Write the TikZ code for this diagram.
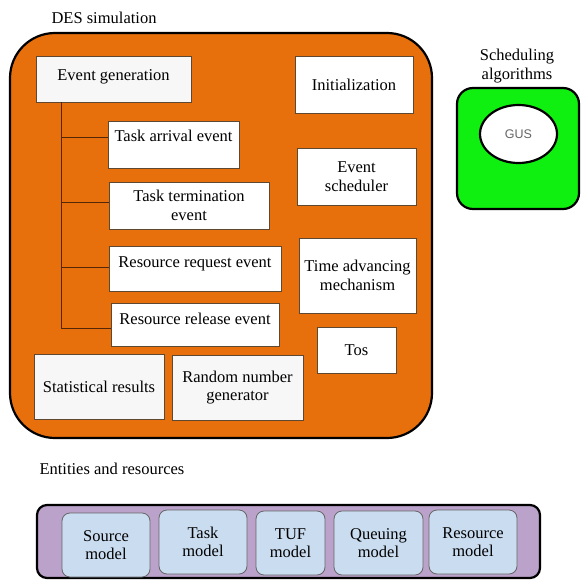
\documentclass[tikz,border=0pt]{standalone}
\usepackage{fontspec}
\setmainfont{LiberationSerif}[Extension=.ttf, UprightFont=*-Regular, BoldFont=*-Bold, ItalicFont=*-Italic]
\newfontfamily\gusfont{Liberation Sans}
\usetikzlibrary{shapes.geometric}
\definecolor{desorange}{RGB}{232,112,12}
\definecolor{schedgreen}{RGB}{16,240,16}
\definecolor{entpurple}{RGB}{186,162,202}
\definecolor{modelblue}{RGB}{202,220,240}
\definecolor{boxedge}{RGB}{95,72,50}
\definecolor{treeline}{RGB}{85,38,8}
\begin{document}
\begin{tikzpicture}[x=1pt,y=-1pt,
  every node/.style={font=\fontsize{16.5}{18.5}\selectfont},
  wbox/.style={draw=boxedge, line width=0.8pt, fill=white, inner sep=0pt, align=center},
  mbox/.style={draw=black!60, line width=0.8pt, fill=modelblue, rounded corners=8pt,
               inner sep=0pt, align=center},
  lift/.style={text height=12pt, text depth=4pt},
  branch/.style={draw=treeline, line width=1pt},
  outline/.style={draw=black, line width=2.2pt}]
\useasboundingbox (0,0) rectangle (580,580);

% DES simulation container
\node[anchor=west] (destitle) at (48,18) {DES simulation};
\node[outline, fill=desorange, rounded corners=45pt, minimum width=422pt,
      minimum height=405pt, inner sep=0pt] (des) at (221,235.5) {};

% event generation tree
\node[wbox, fill=black!3, lift, minimum width=155pt, minimum height=46pt] (evgen) at (113.5,79) {\raisebox{2.5pt}{Event generation}};
\node[wbox, lift, minimum width=131pt, minimum height=47pt] (arrival) at (173.5,144.5) {\raisebox{6.5pt}{Task arrival event}};
\node[wbox, minimum width=160pt, minimum height=47pt] (termination) at (189,205.5) {Task termination\\event};
\node[wbox, lift, minimum width=172pt, minimum height=45pt] (request) at (195,268.5) {\raisebox{5.5pt}{Resource request event}};
\node[wbox, lift, minimum width=168pt, minimum height=43pt] (release) at (195,324.5) {\raisebox{4.5pt}{Resource release event}};

\coordinate (trunk) at (61,102);
\draw[branch] (trunk) |- ([yshift=-3.5pt]release.west);
\draw[branch] ([yshift=6.5pt]arrival.west) -| (trunk);
\draw[branch] ([yshift=3.5pt]termination.west) -| (trunk);
\draw[branch] ([yshift=1.5pt]request.west) -| (trunk);

% remaining simulation components
\node[wbox, fill=black!3, minimum width=130pt, minimum height=65pt] (stats) at (99,386.5) {Statistical results};
\node[wbox, fill=black!3, minimum width=131pt, minimum height=65pt] (random) at (237.5,387.5) {Random number\\generator};
\node[wbox, minimum width=118pt, minimum height=57pt] (init) at (354,84.5) {Initialization};
\node[wbox, minimum width=119pt, minimum height=57pt] (sched) at (356.5,176.5) {Event\\scheduler};
\node[wbox, minimum width=117pt, minimum height=75pt] (timeadv) at (357.5,275.5) {Time advancing\\mechanism};
\node[wbox, minimum width=79pt, minimum height=46pt] (tos) at (356.5,350) {Tos};

% scheduling algorithms
\node[align=center] (schedtitle) at (517,66) {Scheduling\\algorithms};
\node[outline, fill=schedgreen, rounded corners=16pt, minimum width=122pt,
      minimum height=121pt, inner sep=0pt] (algos) at (518,148.5) {};
\node[ellipse, draw=black, line width=2.2pt, fill=white, minimum width=77pt,
      minimum height=58pt, inner sep=0pt, text=black!60,
      font=\gusfont\fontsize{12.5}{14}\selectfont] (gus) at (518.5,134) {GUS};

% entities and resources
\node[anchor=west] (enttitle) at (36,469) {Entities and resources};
\node[outline, fill=entpurple, rounded corners=10pt, minimum width=503pt,
      minimum height=73pt, inner sep=0pt] (ent) at (288.5,541.5) {};
\node[mbox, minimum width=88pt, minimum height=64pt] (source) at (106,545) {Source\\model};
\node[mbox, minimum width=88pt, minimum height=64pt] (task) at (203,542) {Task\\model};
\node[mbox, minimum width=69pt, minimum height=64pt] (tuf) at (290.5,543) {TUF\\model};
\node[mbox, minimum width=89pt, minimum height=64pt] (queuing) at (378.5,543) {Queuing\\model};
\node[mbox, minimum width=88pt, minimum height=64pt] (resource) at (473,542) {Resource\\model};
\end{tikzpicture}
\end{document}
